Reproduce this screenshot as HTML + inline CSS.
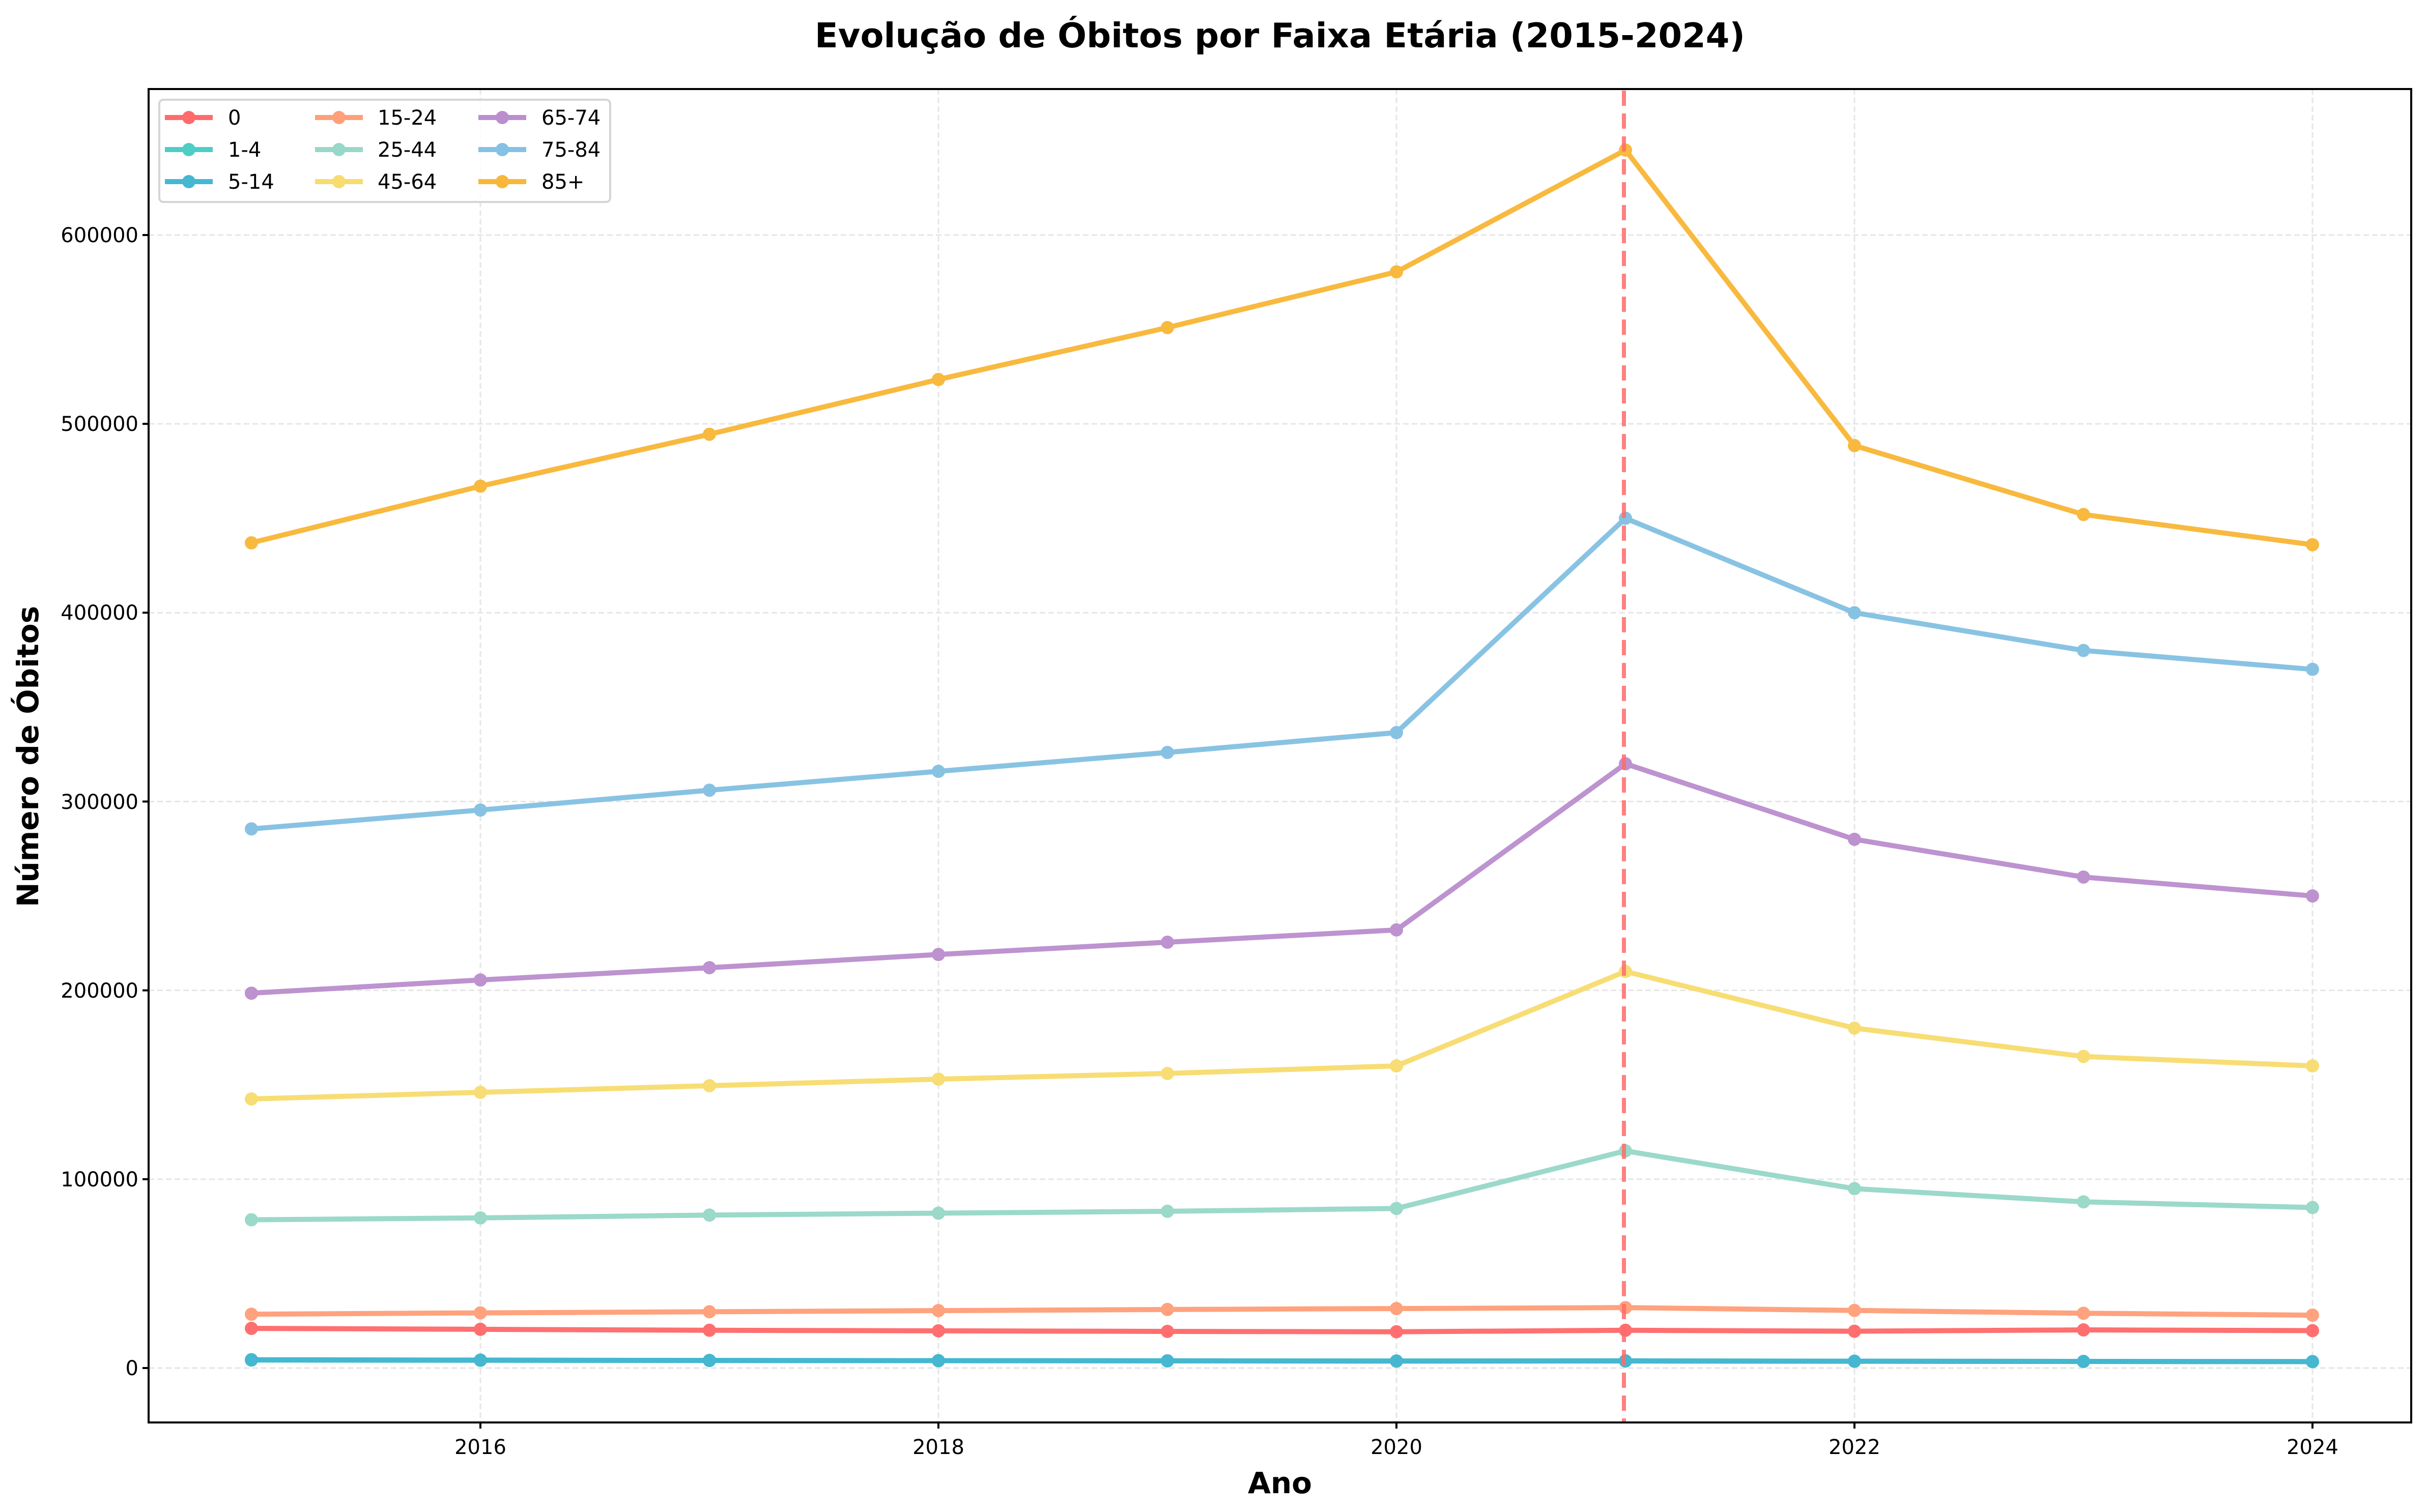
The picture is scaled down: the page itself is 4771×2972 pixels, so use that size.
<!DOCTYPE html>
<html><head><meta charset="utf-8"><style>
html,body{margin:0;padding:0;background:#fff}
svg{display:block}
text{font-family:"DejaVu Sans","Liberation Sans",sans-serif}
</style></head><body>
<svg id="s" width="4771" height="2972" viewBox="0 0 4771 2972" xmlns="http://www.w3.org/2000/svg">
<rect width="4771" height="2972" fill="#fff"/>
<g id="grid" stroke="#e6e6e6" stroke-width="3" stroke-dasharray="11,6"></g>
<g id="series"></g>
<line x1="3191" y1="178" x2="3191" y2="2794" stroke="#ff6b6b" stroke-opacity="0.85" stroke-width="8" stroke-dasharray="30,15"/>
<rect x="292" y="175" width="4446" height="2621" fill="none" stroke="#000" stroke-width="4"/>
<g font-size="40" fill="#000" text-anchor="end">
<text x="272" y="2703">0</text>
<text x="272" y="2332">100000</text>
<text x="272" y="1961">200000</text>
<text x="272" y="1590">300000</text>
<text x="272" y="1218">400000</text>
<text x="272" y="847">500000</text>
<text x="272" y="476">600000</text>
</g>
<g font-size="40" fill="#000" text-anchor="middle">
<text x="944" y="2858">2016</text>
<text x="1844" y="2858">2018</text>
<text x="2744" y="2858">2020</text>
<text x="3644" y="2858">2022</text>
<text x="4544" y="2858">2024</text>
</g>
<g id="ticks" stroke="#000" stroke-width="4"></g>
<text x="2515" y="93" font-size="67" font-weight="bold" text-anchor="middle">Evolução de Óbitos por Faixa Etária (2015-2024)</text>
<text x="2515" y="2935" font-size="58" font-weight="bold" text-anchor="middle">Ano</text>
<text transform="translate(75,1487) rotate(-90)" font-size="58" font-weight="bold" text-anchor="middle">Número de Óbitos</text>
<rect x="313" y="196" width="886" height="201" rx="8" fill="#fff" fill-opacity="0.8" stroke="#d5d5d5" stroke-width="4"/>
<g id="leg"></g>
<g font-size="40" fill="#000">
<text x="448" y="245">0</text>
<text x="448" y="308">1-4</text>
<text x="448" y="371">5-14</text>
<text x="742" y="245">15-24</text>
<text x="742" y="308">25-44</text>
<text x="742" y="371">45-64</text>
<text x="1064" y="245">65-74</text>
<text x="1064" y="308">75-84</text>
<text x="1064" y="371">85+</text>
</g>
</svg>
<script>
var NS="http://www.w3.org/2000/svg";
function el(p,t,a){var e=document.createElementNS(NS,t);for(var k in a)e.setAttribute(k,a[k]);p.appendChild(e);return e;}
function X(y){return 494+(y-2015)*450;}
function Y(v){return 2689-v*0.0037117;}
var g=document.getElementById('grid'),tk=document.getElementById('ticks');
for(var v=0;v<=600000;v+=100000){el(g,'line',{x1:292,x2:4738,y1:Y(v),y2:Y(v)});el(tk,'line',{x1:280,x2:292,y1:Y(v),y2:Y(v)});}
for(var y=2016;y<=2024;y+=2){el(g,'line',{x1:X(y),x2:X(y),y1:175,y2:2796});el(tk,'line',{x1:X(y),x2:X(y),y1:2796,y2:2808});}
var S=[
["#FF6B6B",[21000,20500,20000,19700,19400,19200,20000,19500,20200,19800]],
["#4ECDC4",[4200,4100,4000,3900,3800,3700,3700,3600,3500,3400]],
["#45B7D1",[4400,4200,4000,3900,3800,3700,3800,3600,3500,3400]],
["#FFA07A",[28500,29200,29800,30400,31000,31500,32000,30500,29000,28000]],
["#98D8C8",[78500,79500,81000,82000,83000,84500,115000,95000,88000,85000]],
["#F7DC6F",[142500,146000,149500,153000,156000,160000,210000,180000,165000,160000]],
["#BB8FCE",[198500,205500,212000,219000,225500,232000,320000,280000,260000,250000]],
["#85C1E2",[285500,295500,306000,316000,326000,336500,450000,400000,380000,370000]],
["#F8B739",[437000,467000,494500,523500,551000,580500,645000,488500,452000,436000]]];
var sg=document.getElementById('series');
S.forEach(function(s){var pts=s[1].map(function(v,i){return X(2015+i)+","+Y(v);}).join(" ");
var gg=el(sg,'g',{opacity:0.97});
el(gg,'polyline',{points:pts,fill:'none',stroke:s[0],'stroke-width':10,'stroke-linejoin':'round'});
s[1].forEach(function(v,i){el(gg,'circle',{cx:X(2015+i),cy:Y(v),r:13,fill:s[0]});});});
var lg=document.getElementById('leg');var cols=[324,619,940];
S.forEach(function(s,i){var c=Math.floor(i/3),r=i%3;var x=cols[c],y=231+r*63;
el(lg,'line',{x1:x,x2:x+94,y1:y,y2:y,stroke:s[0],'stroke-width':10});
el(lg,'circle',{cx:x+47,cy:y,r:13,fill:s[0]});});
</script>
</body></html>
